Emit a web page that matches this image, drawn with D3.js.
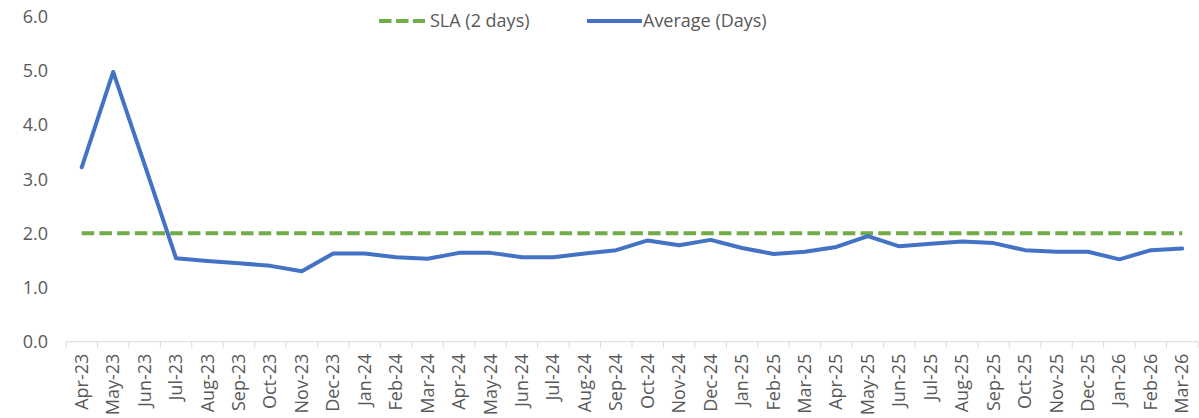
<!DOCTYPE html>
<html>
<head>
<meta charset="utf-8">
<script src="https://cdn.jsdelivr.net/npm/d3@7"></script>
<style>
  html, body { margin: 0; padding: 0; background: #fff; }
  svg { display: block; font-family: "Open Sans", "Noto Sans", sans-serif; }
</style>
</head>
<body>
<svg id="chart" width="1199" height="418"></svg>
<script>
// Monthly categories
const months = [
  "Apr-23","May-23","Jun-23","Jul-23","Aug-23","Sep-23","Oct-23","Nov-23","Dec-23",
  "Jan-24","Feb-24","Mar-24","Apr-24","May-24","Jun-24","Jul-24","Aug-24","Sep-24",
  "Oct-24","Nov-24","Dec-24","Jan-25","Feb-25","Mar-25","Apr-25","May-25","Jun-25",
  "Jul-25","Aug-25","Sep-25","Oct-25","Nov-25","Dec-25","Jan-26","Feb-26","Mar-26"
];

// Service level target (days)
const slaDays = [
  2,2,2,2,2,2,2,2,2,
  2,2,2,2,2,2,2,2,2,
  2,2,2,2,2,2,2,2,2,
  2,2,2,2,2,2,2,2,2
];

// Average turnaround (days)
const averageDays = [
  3.22,4.98,3.27,1.54,1.49,1.45,1.40,1.30,1.63,
  1.63,1.56,1.53,1.64,1.64,1.56,1.56,1.63,1.69,
  1.87,1.78,1.88,1.73,1.62,1.66,1.75,1.95,1.76,
  1.81,1.85,1.82,1.69,1.66,1.66,1.52,1.69,1.72
];

const yTicks = [0, 1, 2, 3, 4, 5, 6];

const seriesNames = ["SLA (2 days)", "Average (Days)"];

const W = 1199, H = 418;
const margin = { top: 16.7, right: 1, bottom: 76.3, left: 66 };
const fontSize = 18;

const svg = d3.select("#chart");

const x = d3.scaleBand()
  .domain(months)
  .range([margin.left, W - margin.right])
  .paddingInner(0).paddingOuter(0);

const y = d3.scaleLinear()
  .domain([0, 6])
  .range([H - margin.bottom, margin.top]);

const cx = d => x(d) + x.bandwidth() / 2;
const axisY = y(0);
const textColor = "#595959";

// Category axis line with boundary tick marks
svg.append("line")
  .attr("x1", margin.left).attr("x2", W - margin.right)
  .attr("y1", axisY).attr("y2", axisY)
  .attr("stroke", "#d9d9d9").attr("stroke-width", 1);

const boundaries = months.map(m => x(m)).concat([x(months[months.length - 1]) + x.bandwidth()]);
svg.append("g").selectAll("line")
  .data(boundaries)
  .join("line")
  .attr("x1", d => d).attr("x2", d => d)
  .attr("y1", axisY).attr("y2", axisY + 6)
  .attr("stroke", "#d9d9d9").attr("stroke-width", 1);

// Rotated month labels
svg.append("g").selectAll("text")
  .data(months)
  .join("text")
  .attr("transform", d => `translate(${cx(d) + 6},${axisY + 12}) rotate(-90)`)
  .attr("text-anchor", "end")
  .attr("fill", textColor)
  .attr("font-size", fontSize)
  .text(d => d);

// Value axis labels
svg.append("g").selectAll("text")
  .data(yTicks)
  .join("text")
  .attr("x", 48)
  .attr("y", d => y(d))
  .attr("dy", "0.35em")
  .attr("text-anchor", "end")
  .attr("fill", textColor)
  .attr("font-size", fontSize)
  .text(d => d3.format(".1f")(d));

const lineGen = d3.line()
  .x((d, i) => cx(months[i]))
  .y(d => y(d));

// SLA target line
svg.append("path")
  .datum(slaDays)
  .attr("d", lineGen)
  .attr("fill", "none")
  .attr("stroke", "#70AD47")
  .attr("stroke-width", 4)
  .attr("stroke-dasharray", "12.5,5.2");

// Average line
svg.append("path")
  .datum(averageDays)
  .attr("d", lineGen)
  .attr("fill", "none")
  .attr("stroke", "#4472C4")
  .attr("stroke-width", 4)
  .attr("stroke-linejoin", "round")
  .attr("stroke-linecap", "round");

// Legend
const legend = svg.append("g");
const legendY = 21;
legend.append("line")
  .attr("x1", 379).attr("x2", 425)
  .attr("y1", legendY).attr("y2", legendY)
  .attr("stroke", "#70AD47").attr("stroke-width", 4)
  .attr("stroke-dasharray", "12.5,4.5");
legend.append("text")
  .attr("x", 430).attr("y", legendY).attr("dy", "0.35em")
  .attr("fill", textColor).attr("font-size", fontSize)
  .text(seriesNames[0]);
legend.append("line")
  .attr("x1", 587).attr("x2", 642)
  .attr("y1", legendY).attr("y2", legendY)
  .attr("stroke", "#4472C4").attr("stroke-width", 4);
legend.append("text")
  .attr("x", 643).attr("y", legendY).attr("dy", "0.35em")
  .attr("fill", textColor).attr("font-size", fontSize)
  .text(seriesNames[1]);
</script>
</body>
</html>
